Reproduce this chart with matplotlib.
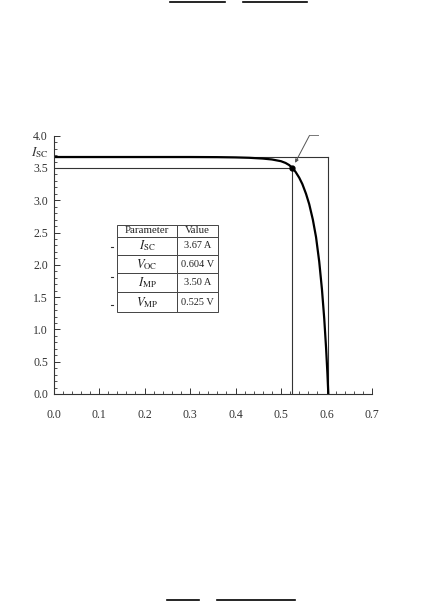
import matplotlib
matplotlib.use("Agg")
import matplotlib.pyplot as plt
from matplotlib.lines import Line2D
from matplotlib.ticker import MultipleLocator, FixedLocator

plt.rcParams['font.family'] = ['Liberation Serif', 'DejaVu Serif']
plt.rcParams['mathtext.fontset'] = 'stix'

# I-V curve points
voltage = [0.0, 0.10, 0.20, 0.30, 0.36, 0.40, 0.43, 0.46, 0.48, 0.50, 0.51,
           0.518, 0.525, 0.532, 0.54, 0.547, 0.555, 0.562, 0.57, 0.577,
           0.584, 0.59, 0.595, 0.599, 0.602, 0.604]
current = [3.67, 3.67, 3.67, 3.67, 3.668, 3.664, 3.658, 3.646, 3.632, 3.605, 3.578,
           3.545, 3.50, 3.44, 3.35, 3.25, 3.10, 2.94, 2.70, 2.43,
           2.05, 1.62, 1.17, 0.72, 0.32, 0.0]

Isc, Voc, Imp, Vmp = 3.67, 0.604, 3.50, 0.525

param_labels = [r'$I_{\mathrm{SC}}$', r'$V_{\mathrm{OC}}$', r'$I_{\mathrm{MP}}$', r'$V_{\mathrm{MP}}$']
param_values = ['3.67 A', '0.604 V', '3.50 A', '0.525 V']

x_ticks = [0.0, 0.1, 0.2, 0.3, 0.4, 0.5, 0.6, 0.7]
x_ticklabels = ['0.0', '0.1', '0.2', '0.3', '0.4', '0.5', '0.6', '0.7']
y_ticks = [0.0, 0.5, 1.0, 1.5, 2.0, 2.5, 3.0, 3.5, 4.0]
y_ticklabels = ['0.0', '0.5', '1.0', '1.5', '2.0', '2.5', '3.0', '3.5', '4.0']

W, H = 438, 601
fig = plt.figure(figsize=(W / 100, H / 100), dpi=100)
ax = fig.add_axes([53.5 / W, 1 - 394 / H, (372 - 53.5) / W, (394 - 135.7) / H])

ax.set_xlim(0, 0.7)
ax.set_ylim(0, 4.0)
for s in ['top', 'right']:
    ax.spines[s].set_visible(False)
for s in ['left', 'bottom']:
    ax.spines[s].set_linewidth(0.8)
    ax.spines[s].set_color('#333333')

ax.xaxis.set_major_locator(FixedLocator(x_ticks))
ax.set_xticklabels(x_ticklabels)
ax.xaxis.set_minor_locator(MultipleLocator(0.02))
ax.yaxis.set_major_locator(FixedLocator(y_ticks))
ax.set_yticklabels(y_ticklabels)
ax.yaxis.set_minor_locator(MultipleLocator(0.1))

ax.tick_params(axis='x', which='major', direction='in', length=4.5, width=0.7,
               pad=11, labelsize=8.5, colors='#333333')
ax.tick_params(axis='x', which='minor', direction='in', length=2.5, width=0.6, colors='#333333')
ax.tick_params(axis='y', which='major', direction='in', length=4.5, width=0.7,
               pad=4, labelsize=8.5, colors='#333333')
ax.tick_params(axis='y', which='minor', direction='in', length=2.5, width=0.6, colors='#333333')

# Rectangles
ax.plot([0, Voc], [Isc, Isc], color='#333333', lw=0.8)
ax.plot([Voc, Voc], [0, Isc], color='#333333', lw=0.8)
ax.plot([0, Vmp], [Imp, Imp], color='#333333', lw=0.8)
ax.plot([Vmp, Vmp], [0, Imp], color='#333333', lw=0.8)

# Curve
ax.plot(voltage, current, color='black', lw=1.6, solid_capstyle='round',
        solid_joinstyle='round')
ax.plot([Vmp], [Imp], 'o', color='black', ms=3.5)

# I_SC label on the axis
ax.text(-0.011, 3.74, r'$I_{\mathrm{SC}}$', ha='right', va='center', fontsize=9.5,
        color='#333333')

# Pointer to the maximum power point
ax.plot([0.5627, 0.5803], [4.005, 4.005], color='#777777', lw=0.7, clip_on=False)
ax.annotate('', xy=(0.531, 3.58), xytext=(0.5627, 4.005),
            arrowprops=dict(arrowstyle='-|>', color='#555555', lw=0.7,
                            mutation_scale=5, shrinkA=0, shrinkB=0),
            annotation_clip=False)

# Table
col_labels = ['Parameter', 'Value']
cell_text = [[p, v] for p, v in zip(param_labels, param_values)]
x0 = (117.3 - 53.5) / 318.5
x1 = (217.7 - 53.5) / 318.5
yb = (394 - 312) / 258.3
yt = (394 - 225) / 258.3
tbl = ax.table(cellText=cell_text, colLabels=col_labels, cellLoc='center',
               bbox=[x0, yb, x1 - x0, yt - yb])
tbl.auto_set_font_size(False)
row_h = [11.7, 18.5, 18.3, 19.0, 19.7]
col_w = [59.4, 41.0]
for (r, c), cell in tbl.get_celld().items():
    cell.set_height(row_h[r])
    cell.set_width(col_w[c])
    cell.set_edgecolor('#444444')
    cell.set_linewidth(0.7)
    if r == 0:
        fs = 7.8
    elif c == 0:
        fs = 9
    else:
        fs = 7.4
    cell.get_text().set_fontsize(fs)
    cell.get_text().set_color('#222222')

# small dashes left of the table (scan marks)
for yy in [247, 276.7, 305]:
    fig.add_artist(Line2D([111 / W, 113 / W], [1 - yy / H, 1 - yy / H],
                          color='#333333', lw=0.8))

# stray rule marks at top and bottom of page
for xa, xb, yy in [(170, 225, 1.5), (243, 307, 1.5), (167, 199, 599.5), (217, 295, 599.5)]:
    fig.add_artist(Line2D([xa / W, xb / W], [1 - yy / H, 1 - yy / H],
                          color='black', lw=1.2))

fig.savefig('out.png', dpi=100)
